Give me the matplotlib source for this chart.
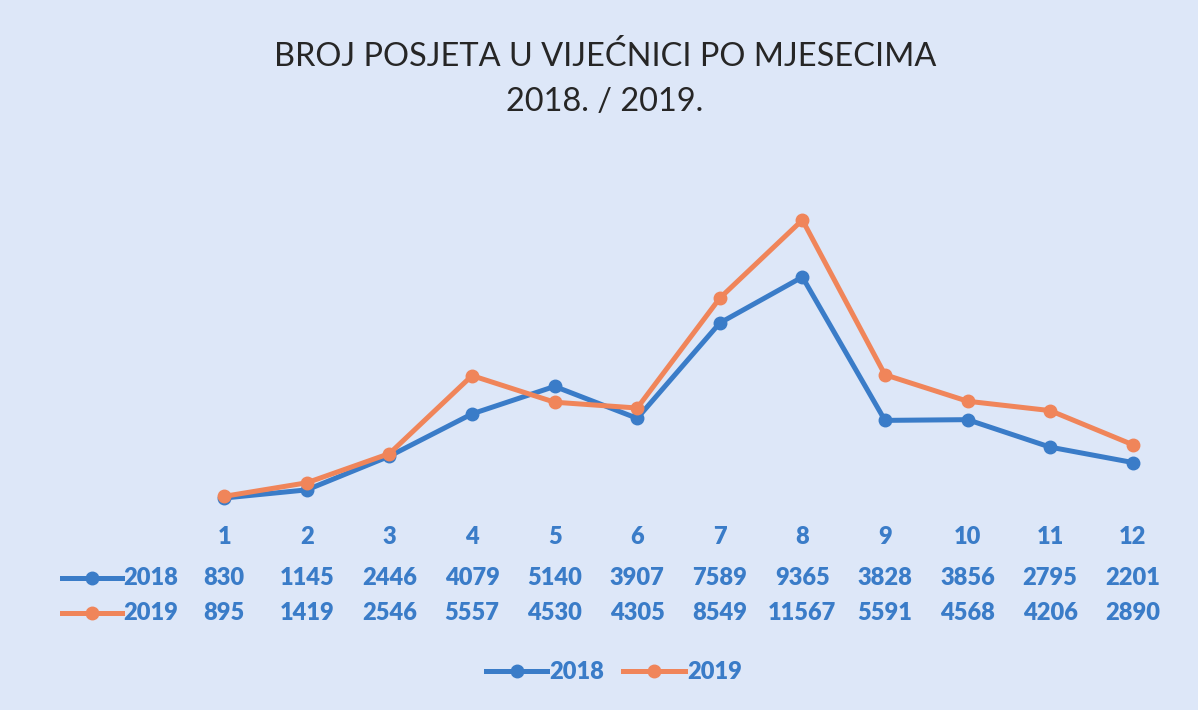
import matplotlib
matplotlib.use("Agg")
import matplotlib.pyplot as plt
from matplotlib.lines import Line2D
from matplotlib.transforms import blended_transform_factory

months = [1, 2, 3, 4, 5, 6, 7, 8, 9, 10, 11, 12]
visits_2018 = [830, 1145, 2446, 4079, 5140, 3907, 7589, 9365, 3828, 3856, 2795, 2201]
visits_2019 = [895, 1419, 2546, 5557, 4530, 4305, 8549, 11567, 5591, 4568, 4206, 2890]
series_names = ["2018", "2019"]
title_text = "BROJ POSJETA U VIJEĆNICI PO MJESECIMA\n2018. / 2019."

BG = "#dde7f8"
BLUE = "#3a7cc8"
ORANGE = "#f0855a"
TXT = "#3a7cc8"
W, H = 1198, 710

fig = plt.figure(figsize=(W / 100, H / 100), dpi=100, facecolor=BG)
ax = fig.add_axes([183 / W, (H - 519.5) / H, (1174 - 183) / W, (519.5 - 157) / H])
ax.set_facecolor(BG)
ax.set_xlim(0.5, 12.5)
ax.set_ylim(0, 14000)
for s in ax.spines.values():
    s.set_visible(False)
ax.set_xticks([])
ax.set_yticks([])

colors = [BLUE, ORANGE]
for vals, c, name in zip([visits_2018, visits_2019], colors, series_names):
    ax.plot(months, vals, color=c, lw=3.6, marker="o", ms=9, solid_joinstyle="round",
            label=name, zorder=3)

fig.text(605 / W, 1 - 79 / H, title_text, ha="center", va="center", fontsize=23.4,
         family="Lato", color="#262626", linespacing=1.6)

tb = blended_transform_factory(ax.transData, fig.transFigure)
tfont = dict(family="Lato", fontweight="heavy", fontsize=17, color=TXT, ha="center", va="center")
row_y = [1 - 537 / H, 1 - 578 / H, 1 - 613 / H]
for m in months:
    ax.text(m, row_y[0], str(m), transform=tb, **tfont)
for vals, y in zip([visits_2018, visits_2019], row_y[1:]):
    for m, v in zip(months, vals):
        ax.text(m, y, str(v), transform=tb, **tfont)

# row keys
for name, c, y in zip(series_names, colors, row_y[1:]):
    fig.add_artist(Line2D([62 / W, 122 / W], [y, y], color=c, lw=3.6, transform=fig.transFigure))
    fig.add_artist(Line2D([92 / W], [y], color=c, marker="o", ms=9, lw=0, transform=fig.transFigure))
    fig.text(151 / W, y, name, **tfont)

# legend
handles = [Line2D([], [], color=c, lw=3.6, marker="o", ms=9) for c in colors]
leg = fig.legend(handles, series_names, loc="center", bbox_to_anchor=(614 / W, 1 - 672 / H),
                 ncol=2, frameon=False, handlelength=2.6, handletextpad=0.1, columnspacing=0.8,
                 prop=dict(family="Lato", weight="heavy", size=17))
for t in leg.get_texts():
    t.set_color(TXT)

fig.savefig("out.png", dpi=100, facecolor=BG)
